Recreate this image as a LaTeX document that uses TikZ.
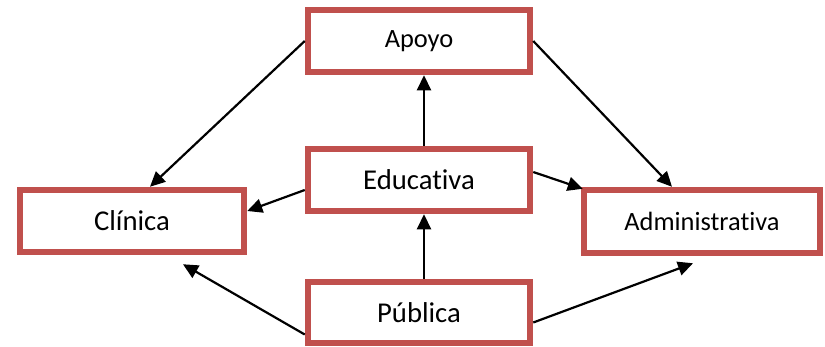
\documentclass[tikz,border=0pt]{standalone}
\usepackage{fontspec}
\setmainfont{Carlito}[Ligatures=NoCommon]
\usetikzlibrary{arrows.meta}
\definecolor{boxred}{RGB}{192,80,77}
\begin{document}
\begin{tikzpicture}[x=1pt,y=-1pt,
  box/.style={draw=boxred,line width=6.5pt,fill=white,rectangle,inner sep=0pt,text=black},
  big/.style={font=\fontsize{28.7}{32}\selectfont},
  small/.style={font=\fontsize{26.4}{30}\selectfont},
  arr/.style={line width=2.2pt,-{Triangle[length=15pt,width=14pt]}}]
\useasboundingbox (0,0) rectangle (825,346);
\node[box,small,minimum width=222pt,minimum height=62pt] (apoyo) at (419,41) {Apoyo};
\node[box,big,minimum width=222pt,minimum height=62pt] (educ) at (419,180) {Educativa};
\node[box,big,minimum width=222pt,minimum height=61pt] (publica) at (419,312.5) {Pública};
\node[box,big,minimum width=224pt,minimum height=62pt] (clinica) at (132,221) {Clínica};
\node[box,small,minimum width=236pt,minimum height=63pt] (admin) at (702,221.5) {Administrativa};
\draw[arr] (apoyo.west) -- ([xshift=18pt]clinica.north);
\draw[arr] (apoyo.east) -- ([xshift=-30pt]admin.north);
\draw[arr] ([xshift=5pt]educ.north) -- ([xshift=5pt]apoyo.south);
\draw[arr] ([xshift=5pt]publica.north) -- ([xshift=5pt]educ.south);
\draw[arr] ([yshift=-10pt]educ.west) -- ([yshift=10pt]clinica.east);
\draw[arr] ([yshift=8pt]educ.east) -- ([shift={(2pt,-2pt)}]admin.north west);
\draw[arr] ([yshift=-22pt]publica.west) -- ([shift={(51pt,-9pt)}]clinica.south);
\draw[arr] ([yshift=-10pt]publica.east) -- ([shift={(-9pt,-7pt)}]admin.south);
\end{tikzpicture}
\end{document}
